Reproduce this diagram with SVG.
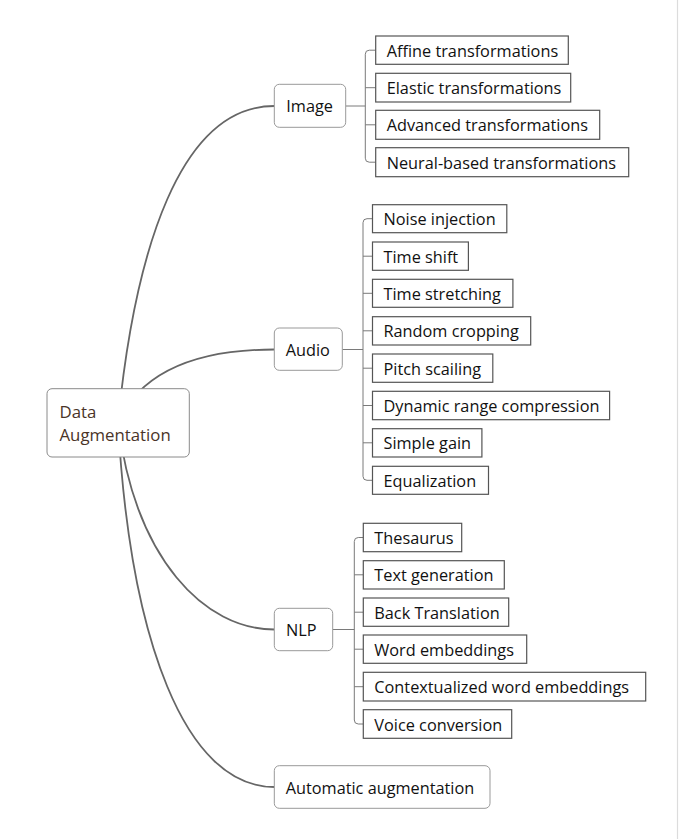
<svg xmlns="http://www.w3.org/2000/svg" width="683" height="839" viewBox="0 0 683 839">
<style>
.bg{fill:#ffffff}
.curve{fill:none;stroke:#666666;stroke-width:1.8}
.brk{fill:none;stroke:#7a7a7a;stroke-width:1}
.root{fill:#ffffff;stroke:#8a8a8a;stroke-width:1}
.mid{fill:#ffffff;stroke:#999999;stroke-width:1}
.leaf{fill:#ffffff;stroke:#555555;stroke-width:1.2}
text{font-family:"Open Sans","Noto Sans","Liberation Sans",sans-serif;font-size:16.3px;fill:#111111}
.rt{fill:#4a3428;font-size:16.8px}
</style>
<rect class="bg" x="0" y="0" width="683" height="839"/>
<line x1="677.5" y1="0" x2="677.5" y2="839" stroke="#dcdcdc" stroke-width="1.2"/>
<g id="connectors">
<path class="curve" d="M118,422 C135,250 180,106 274.3,106"/>
<path class="curve" d="M118,422 C140,375 190,349.5 274.3,349.5"/>
<path class="curve" d="M118,422 C135,560 205,629.5 274.3,629.5"/>
<path class="curve" d="M118,422 C130,640 185,787 274.3,787"/>
<path class="brk" d="M345.7,106 H365.3"/>
<path class="brk" d="M375.7,50.2 H369.3 Q365.3,50.2 365.3,54.2 V158.2 Q365.3,162.2 369.3,162.2 H375.7 M365.3,87.7 H375.7 M365.3,124.8 H375.7"/>
<path class="brk" d="M342.3,349.5 H363"/>
<path class="brk" d="M372.5,218.7 H367 Q363,218.7 363,222.7 V476.3 Q363,480.3 367,480.3 H372.5 M363,256.2 H372.5 M363,293.3 H372.5 M363,330.8 H372.5 M363,368.2 H372.5 M363,405.5 H372.5 M363,442.8 H372.5"/>
<path class="brk" d="M332.7,629.5 H354.3"/>
<path class="brk" d="M363.3,537.5 H358.3 Q354.3,537.5 354.3,541.5 V720 Q354.3,724 358.3,724 H363.3 M354.3,574.8 H363.3 M354.3,612.2 H363.3 M354.3,649.2 H363.3 M354.3,686.7 H363.3"/>
</g>
<g id="root">
<rect class="root" x="47" y="388.7" width="142.3" height="68.3" rx="5"/>
<text class="rt" x="59.5" y="418.3">Data</text>
<text class="rt" x="59.5" y="440.7">Augmentation</text>
</g>
<g id="image">
<rect class="mid" x="274.3" y="84.3" width="71.4" height="43" rx="5"/>
<text x="286.3" y="112.3">Image</text>
</g>
<g id="audio">
<rect class="mid" x="274.3" y="328" width="68" height="42.3" rx="5"/>
<text x="285.7" y="355.8">Audio</text>
</g>
<g id="nlp">
<rect class="mid" x="274.3" y="608.3" width="58.4" height="42.4" rx="5"/>
<text x="286" y="635.8">NLP</text>
</g>
<g id="automatic">
<rect class="mid" x="274.3" y="765.7" width="215.7" height="42.6" rx="5"/>
<text x="285.7" y="793.5">Automatic augmentation</text>
</g>
<g id="affine"><rect class="leaf" x="375.7" y="36" width="192.6" height="28.3"/><text x="386.7" y="56.7">Affine transformations</text></g>
<g id="elastic"><rect class="leaf" x="375.7" y="73.3" width="195" height="28.7"/><text x="386.7" y="94.2">Elastic transformations</text></g>
<g id="advanced"><rect class="leaf" x="375.7" y="110.3" width="224" height="29"/><text x="386.7" y="131.3">Advanced transformations</text></g>
<g id="neural"><rect class="leaf" x="375.7" y="147.7" width="253" height="29"/><text x="386.7" y="168.7">Neural-based transformations</text></g>
<g id="noise"><rect class="leaf" x="372.5" y="204.7" width="134.3" height="28"/><text x="383.5" y="225.2">Noise injection</text></g>
<g id="timeshift"><rect class="leaf" x="372.5" y="242" width="95.9" height="28.3"/><text x="383.5" y="262.7">Time shift</text></g>
<g id="timestretch"><rect class="leaf" x="372.5" y="279.3" width="140.4" height="28"/><text x="383.5" y="299.8">Time stretching</text></g>
<g id="random"><rect class="leaf" x="372.5" y="316.7" width="158.2" height="28.3"/><text x="383.5" y="337.3">Random cropping</text></g>
<g id="pitch"><rect class="leaf" x="372.5" y="354" width="120.3" height="28.3"/><text x="383.5" y="374.7">Pitch scailing</text></g>
<g id="dynamic"><rect class="leaf" x="372.5" y="391.3" width="237.1" height="28.4"/><text x="383.5" y="412">Dynamic range compression</text></g>
<g id="gain"><rect class="leaf" x="372.5" y="428.7" width="109.4" height="28.3"/><text x="383.5" y="449.3">Simple gain</text></g>
<g id="equal"><rect class="leaf" x="372.5" y="466.3" width="116" height="28"/><text x="383.5" y="486.8">Equalization</text></g>
<g id="thesaurus"><rect class="leaf" x="363.3" y="523.3" width="98.4" height="28.4"/><text x="374.3" y="544">Thesaurus</text></g>
<g id="textgen"><rect class="leaf" x="363.3" y="560.7" width="141" height="28.3"/><text x="374.3" y="581.3">Text generation</text></g>
<g id="backtrans"><rect class="leaf" x="363.3" y="598" width="145.4" height="28.3"/><text x="374.3" y="618.7">Back Translation</text></g>
<g id="wordemb"><rect class="leaf" x="363.3" y="635" width="163.4" height="28.3"/><text x="374.3" y="655.7">Word embeddings</text></g>
<g id="context"><rect class="leaf" x="363.3" y="672.3" width="282.4" height="28.7"/><text x="374.3" y="693.2">Contextualized word embeddings</text></g>
<g id="voice"><rect class="leaf" x="363.3" y="709.7" width="148.4" height="28.6"/><text x="374.3" y="730.5">Voice conversion</text></g>
</svg>
